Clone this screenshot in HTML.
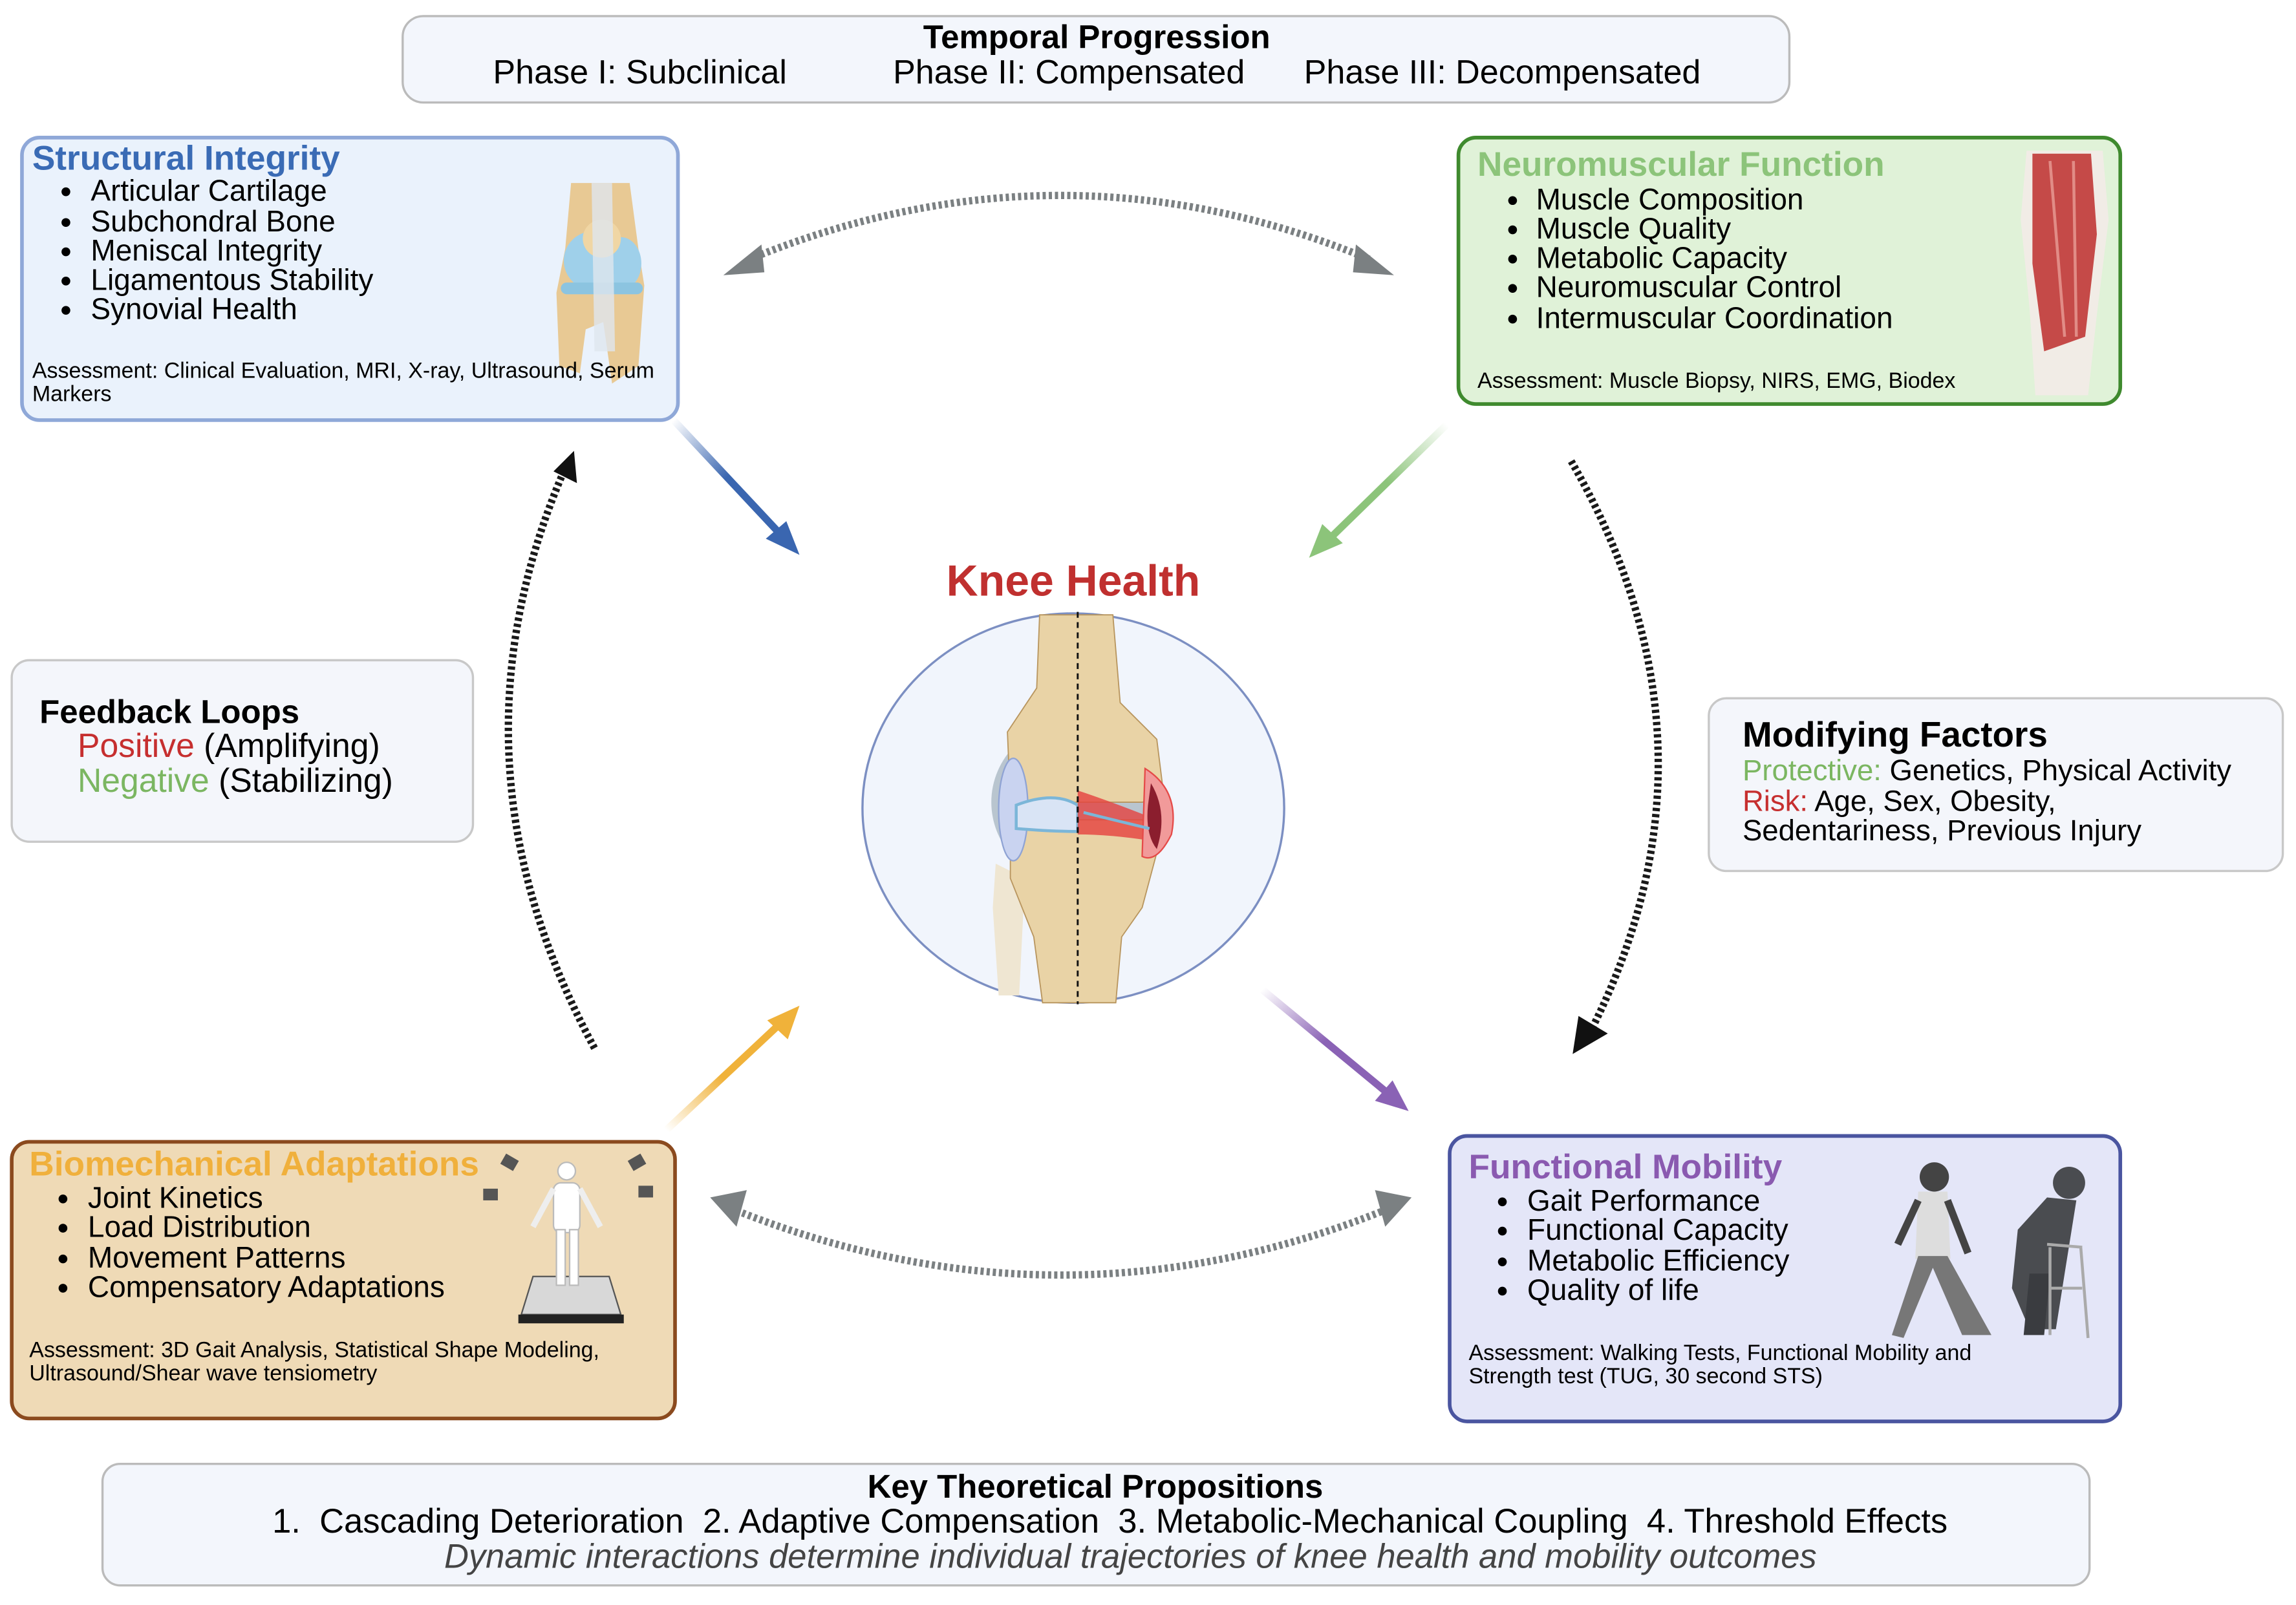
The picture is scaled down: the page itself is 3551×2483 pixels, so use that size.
<!DOCTYPE html>
<html><head><meta charset="utf-8"><style>
html,body{margin:0;padding:0;background:#fff;}
svg{display:block;}
text{font-family:"Liberation Sans",sans-serif;}
</style></head><body>
<svg width="3551" height="2483" viewBox="0 0 1568 1096.4" xmlns="http://www.w3.org/2000/svg">
<defs>
<linearGradient id="gb" x1="0" y1="0" x2="1" y2="1"><stop offset="0" stop-color="#3a66b0" stop-opacity="0"/><stop offset="0.5" stop-color="#3a66b0"/></linearGradient>
<linearGradient id="gg" x1="1" y1="0" x2="0" y2="1"><stop offset="0" stop-color="#8cc47a" stop-opacity="0"/><stop offset="0.5" stop-color="#8cc47a"/></linearGradient>
<linearGradient id="go" x1="0" y1="1" x2="1" y2="0"><stop offset="0" stop-color="#f0b23a" stop-opacity="0"/><stop offset="0.5" stop-color="#f0b23a"/></linearGradient>
<linearGradient id="gp" x1="0" y1="0" x2="1" y2="1"><stop offset="0" stop-color="#8a62b5" stop-opacity="0"/><stop offset="0.5" stop-color="#8a62b5"/></linearGradient>
</defs>

<!-- Temporal -->
<rect x="275" y="11" width="947" height="59" rx="14" fill="#f3f6fc" stroke="#bbb" stroke-width="1.5"/>
<text x="749" y="33" font-size="22.5" font-weight="bold" text-anchor="middle">Temporal Progression</text>
<text x="437" y="57" font-size="23" text-anchor="middle">Phase I: Subclinical</text>
<text x="730" y="57" font-size="23" text-anchor="middle">Phase II: Compensated</text>
<text x="1026" y="57" font-size="23" text-anchor="middle">Phase III: Decompensated</text>

<!-- Structural -->
<rect x="15" y="94" width="448" height="193" rx="12" fill="#eaf2fc" stroke="#8fa8d8" stroke-width="2.5"/>
<!-- knee icon -->
<g>
<path d="M390,125 L430,125 L436,170 L440,195 L436,250 L418,262 L412,220 L400,225 L396,255 L382,250 L380,200 L386,170 Z" fill="#e8c994"/>
<ellipse cx="405" cy="178" rx="20" ry="20" fill="#9fd0ea"/><ellipse cx="424" cy="180" rx="14" ry="18" fill="#9fd0ea"/>
<ellipse cx="411" cy="163" rx="13" ry="13" fill="#f0d6a4"/>
<rect x="383" y="193" width="56" height="8" rx="4" fill="#8cc4e0"/>
<path d="M404,125 L418,125 L420,240 L406,240 Z" fill="#dfe6ee" opacity="0.8"/>
</g>
<text x="22" y="116" font-size="23.5" font-weight="bold" fill="#3a6bb5">Structural Integrity</text>
<g font-size="20.3">
<text x="62" y="137">Articular Cartilage</text><text x="62" y="158">Subchondral Bone</text><text x="62" y="178">Meniscal Integrity</text><text x="62" y="198">Ligamentous Stability</text><text x="62" y="218">Synovial Health</text>
</g>
<g fill="#000"><circle cx="45" cy="131" r="3"/><circle cx="45" cy="152" r="3"/><circle cx="45" cy="172" r="3"/><circle cx="45" cy="192" r="3"/><circle cx="45" cy="212" r="3"/></g>
<text x="22" y="258" font-size="15">Assessment: Clinical Evaluation, MRI, X-ray, Ultrasound, Serum</text>
<text x="22" y="274" font-size="15">Markers</text>

<!-- Neuromuscular -->
<rect x="996" y="94" width="452" height="182" rx="12" fill="#e0f2d8" stroke="#3f8a2e" stroke-width="2.5"/>
<path d="M1384,103 L1436,103 L1440,150 L1432,215 L1426,270 L1390,270 L1386,210 L1380,150 Z" fill="#f1ece6"/>
<path d="M1388,105 L1428,105 L1432,160 L1424,230 L1396,240 L1388,180 Z" fill="#c54a48"/>
<path d="M1400,110 L1410,230" stroke="#e18c86" stroke-width="2"/><path d="M1416,110 L1418,230" stroke="#e18c86" stroke-width="2"/>
<text x="1009" y="120" font-size="23.5" font-weight="bold" fill="#8cc47a">Neuromuscular Function</text>
<g font-size="20.3">
<text x="1049" y="143">Muscle Composition</text><text x="1049" y="163">Muscle Quality</text><text x="1049" y="183">Metabolic Capacity</text><text x="1049" y="203">Neuromuscular Control</text><text x="1049" y="224">Intermuscular Coordination</text>
</g>
<g><circle cx="1033" cy="137" r="3"/><circle cx="1033" cy="157" r="3"/><circle cx="1033" cy="177" r="3"/><circle cx="1033" cy="197" r="3"/><circle cx="1033" cy="218" r="3"/></g>
<text x="1009" y="265" font-size="15">Assessment: Muscle Biopsy, NIRS, EMG, Biodex</text>

<!-- Feedback -->
<rect x="8" y="451" width="315" height="124" rx="12" fill="#f4f6fb" stroke="#c8c8c8" stroke-width="1.5"/>
<text x="27" y="494" font-size="22.5" font-weight="bold">Feedback Loops</text>
<text x="53" y="517" font-size="22.8"><tspan fill="#c62f2f">Positive</tspan> (Amplifying)</text>
<text x="53" y="541" font-size="22.8"><tspan fill="#7bb661">Negative</tspan> (Stabilizing)</text>

<!-- Modifying -->
<rect x="1167" y="477" width="392" height="118" rx="12" fill="#f4f6fb" stroke="#c8c8c8" stroke-width="1.5"/>
<text x="1190" y="510" font-size="24.2" font-weight="bold">Modifying Factors</text>
<text x="1190" y="533" font-size="20.1"><tspan fill="#7bb661">Protective:</tspan> Genetics, Physical Activity</text>
<text x="1190" y="554" font-size="20.1"><tspan fill="#c62f2f">Risk:</tspan> Age, Sex, Obesity,</text>
<text x="1190" y="574" font-size="20.1">Sedentariness, Previous Injury</text>

<!-- Biomech -->
<rect x="8" y="780" width="453" height="189" rx="12" fill="#efdab6" stroke="#8b4a1e" stroke-width="2.5"/>
<polygon points="356,898 424,898 416,872 364,872" fill="#d8d8d8" stroke="#555"/><rect x="354" y="898" width="72" height="6" fill="#222"/>
<g fill="#fff" stroke="#bbb"><circle cx="387" cy="800" r="6"/><rect x="378" y="808" width="18" height="34" rx="5"/><rect x="380" y="840" width="6" height="38"/><rect x="389" y="840" width="6" height="38"/><path d="M378,812 L364,838 M396,812 L410,838" stroke-width="4" stroke="#eee"/></g>
<g fill="#555"><rect x="343" y="790" width="10" height="8" transform="rotate(30 348 794)"/><rect x="330" y="812" width="10" height="8"/><rect x="430" y="790" width="10" height="8" transform="rotate(-30 435 794)"/><rect x="436" y="810" width="10" height="8"/></g>
<text x="20" y="803" font-size="23.5" font-weight="bold" fill="#f0b03c">Biomechanical Adaptations</text>
<g font-size="20.3">
<text x="60" y="825">Joint Kinetics</text><text x="60" y="845">Load Distribution</text><text x="60" y="866">Movement Patterns</text><text x="60" y="886">Compensatory Adaptations</text>
</g>
<g><circle cx="43" cy="819" r="3"/><circle cx="43" cy="839" r="3"/><circle cx="43" cy="860" r="3"/><circle cx="43" cy="880" r="3"/></g>
<text x="20" y="927" font-size="15">Assessment: 3D Gait Analysis, Statistical Shape Modeling,</text>
<text x="20" y="943" font-size="15">Ultrasound/Shear wave tensiometry</text>

<!-- Functional -->
<rect x="990" y="776" width="458" height="195" rx="12" fill="#e4e6f8" stroke="#4a55a0" stroke-width="2.5"/>
<circle cx="1321" cy="804" r="10" fill="#444"/>
<path d="M1310,814 L1330,814 L1332,860 L1308,860 Z" fill="#ddd"/>
<path d="M1310,858 L1292,912 L1300,914 L1320,866 L1340,912 L1360,912 L1330,858 Z" fill="#777"/>
<path d="M1310,820 L1296,850 M1330,820 L1344,856" stroke="#444" stroke-width="5"/>
<circle cx="1413" cy="808" r="11" fill="#4a4c50"/>
<path d="M1398,818 L1418,820 L1410,870 L1404,908 L1386,908 L1374,880 L1378,840 Z" fill="#4a4c50"/>
<path d="M1386,870 L1382,912 L1396,912 L1400,870 Z" fill="#3a3c40"/>
<path d="M1400,852 L1400,912 M1421,852 L1426,914 M1398,850 L1422,852 M1400,880 L1422,880" stroke="#aaa" stroke-width="2" fill="none"/>
<text x="1003" y="805" font-size="23.5" font-weight="bold" fill="#8a5ab0">Functional Mobility</text>
<g font-size="20.3">
<text x="1043" y="827">Gait Performance</text><text x="1043" y="847">Functional Capacity</text><text x="1043" y="868">Metabolic Efficiency</text><text x="1043" y="888">Quality of life</text>
</g>
<g><circle cx="1026" cy="821" r="3"/><circle cx="1026" cy="841" r="3"/><circle cx="1026" cy="862" r="3"/><circle cx="1026" cy="882" r="3"/></g>
<text x="1003" y="929" font-size="15">Assessment: Walking Tests, Functional Mobility and</text>
<text x="1003" y="945" font-size="15">Strength test (TUG, 30 second STS)</text>

<!-- Key -->
<rect x="70" y="1000" width="1357" height="83" rx="12" fill="#f3f6fc" stroke="#bbb" stroke-width="1.5"/>
<text x="748" y="1023" font-size="22.5" font-weight="bold" text-anchor="middle">Key Theoretical Propositions</text>
<text x="758" y="1047" font-size="23.2" text-anchor="middle" xml:space="preserve">1.  Cascading Deterioration  2. Adaptive Compensation  3. Metabolic-Mechanical Coupling  4. Threshold Effects</text>
<text x="772" y="1071" font-size="23.2" font-style="italic" fill="#444" text-anchor="middle">Dynamic interactions determine individual trajectories of knee health and mobility outcomes</text>

<!-- center -->
<text x="733" y="407" font-size="30" font-weight="bold" fill="#c0302f" text-anchor="middle">Knee Health</text>
<ellipse cx="733" cy="552" rx="144" ry="133" fill="#f1f5fc" stroke="#7c8fc2" stroke-width="1.5"/>
<g>
<path d="M680,590 L700,600 L696,680 L682,680 L678,620 Z" fill="#efe6d2"/>
<ellipse cx="735" cy="548" rx="58" ry="56" fill="#b9c5cf"/>
<path d="M710,420 L760,420 L765,480 L790,505 L795,545 L780,548 L690,548 L688,500 L708,470 Z" fill="#e9d3a6" stroke="#b8955e" stroke-width="0.8"/>
<path d="M690,560 L780,560 L792,575 L780,620 L766,640 L762,685 L712,685 L706,640 L690,600 Z" fill="#e9d3a6" stroke="#b8955e" stroke-width="0.8"/>
<ellipse cx="692" cy="553" rx="10" ry="35" fill="#c9d3f0" stroke="#8fa3d4"/>
<path d="M694,550 Q720,540 736,550 L736,568 Q718,568 694,566 Z" fill="#d9e4f5" stroke="#7bb6d8" stroke-width="2"/>
<path d="M736,540 Q760,548 790,560 L790,575 Q760,570 736,570 Z" fill="#e5413f" opacity="0.8"/>
<path d="M782,525 Q806,540 800,570 Q790,590 780,585 Z" fill="#f19a9a" stroke="#e54a48"/>
<path d="M786,535 Q798,555 790,580 Q782,570 784,550 Z" fill="#8b1e2e"/>
<path d="M740,555 Q760,560 785,566" stroke="#7bb6d8" stroke-width="2" fill="none"/>
</g>
<line x1="736" y1="418" x2="736" y2="686" stroke="#111" stroke-width="1.3" stroke-dasharray="4,3"/>

<!-- colored arrows -->
<g stroke-width="5" fill="none">
<line x1="460" y1="287" x2="533" y2="365" stroke="url(#gb)"/>
<polygon points="546,379 523,368 537,356" fill="#3a66b0" stroke="none"/>
<line x1="988" y1="290" x2="907" y2="369" stroke="url(#gg)"/>
<polygon points="894,381 903,358 917,371" fill="#8cc47a" stroke="none"/>
<line x1="455" y1="772" x2="532" y2="700" stroke="url(#go)"/>
<polygon points="546,687 538,710 524,697" fill="#f0b23a" stroke="none"/>
<line x1="862" y1="676" x2="948" y2="747" stroke="url(#gp)"/>
<polygon points="962,759 939,752 951,738" fill="#8a62b5" stroke="none"/>
</g>

<!-- dotted arcs -->
<g fill="none" stroke-width="5" stroke-dasharray="2.2,2">
<path d="M512,177 Q725,90 935,177" stroke="#7b8082"/>
<path d="M503,827 Q725,915 945,827" stroke="#7b8082"/>
<path d="M406,716 Q300,520 385,322" stroke="#1a1a1a"/>
<path d="M1073,315 Q1185,510 1086,705" stroke="#1a1a1a"/>
</g>
<g fill="#7b8082">
<polygon points="494,188 520,167 522,186"/>
<polygon points="952,188 926,167 924,186"/>
<polygon points="485,818 510,813 503,838"/>
<polygon points="964,818 939,813 946,838"/>
</g>
<g fill="#111">
<polygon points="392,308 394,330 378,322"/>
<polygon points="1074,720 1078,694 1098,706"/>
</g>
</svg>
</body></html>
